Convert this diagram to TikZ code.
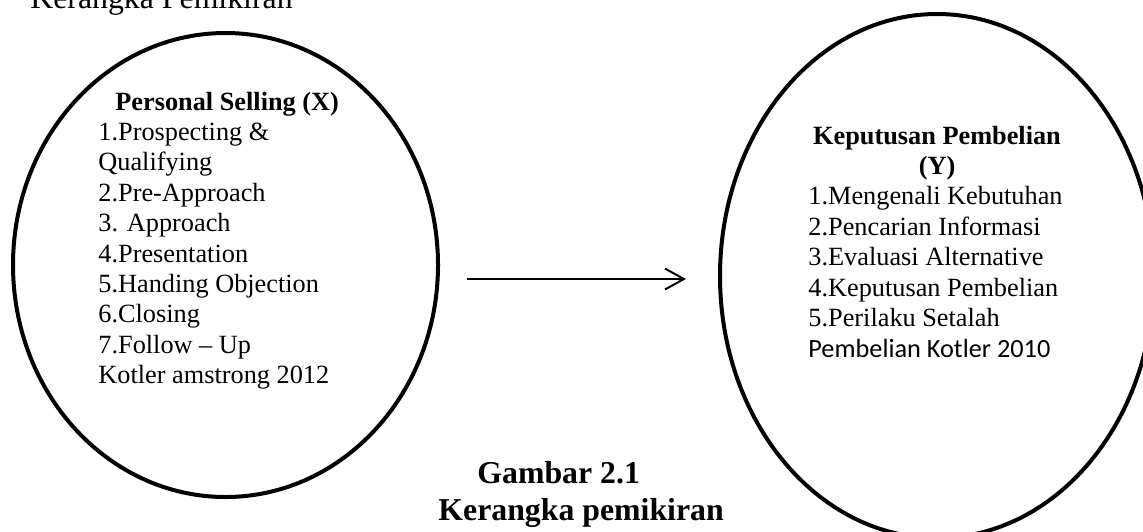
\documentclass[tikz,border=0pt]{standalone}
\usepackage{fontspec}
\setmainfont{Liberation Serif}
\newfontfamily\calfont{Carlito}
\usetikzlibrary{arrows.meta,shapes.geometric}
\begin{document}
\begin{tikzpicture}[x=0.5pt,y=-0.5pt,
  txt/.style={anchor=base west, inner sep=0pt, font=\fontsize{13.15}{15}\selectfont},
  hd/.style={txt, font=\fontsize{13.15}{15}\selectfont\bfseries},
  captxt/.style={anchor=base west, inner sep=0pt, font=\fontsize{15.9}{18}\selectfont\bfseries},
  oval/.style={draw, ellipse, line width=2pt, inner sep=0pt},
  conn/.style={line width=1pt, -{Straight Barb[length=9.5pt, width=10.5pt, line width=1pt]}}]
\useasboundingbox (0,0) rectangle (1143,531);
\clip (0,0) rectangle (1143,531);
% top heading (cut off)
\node[anchor=base west, inner sep=0pt, font=\fontsize{15.9}{18}\selectfont] (toptitle) at (30,8) {Kerangka Pemikiran};
% ellipses
\node[oval, minimum width=212.5pt, minimum height=232pt] (X) at (225.5,265) {};
\node[oval, minimum width=217pt, minimum height=262pt] (Y) at (937,276) {};
% left text
\node[hd] (x0) at (115,110) {Personal Selling (X)};
\foreach \t [count=\i] in {1.Prospecting \&, Qualifying, 2.Pre-Approach, 3. Approach, 4.Presentation, 5.Handing Objection, 6.Closing, 7.Follow -- Up, Kotler amstrong 2012}
  \node[txt] (x\i) at (98,{110+\i*30.4}) {\t};
% right text
\node[hd, anchor=base] (y0) at (937,144) {Keputusan Pembelian};
\node[hd, anchor=base] (y1) at (937,174.4) {(Y)};
\foreach \t [count=\i] in {1.Mengenali Kebutuhan, 2.Pencarian Informasi, 3.Evaluasi Alternative, 4.Keputusan Pembelian, 5.Perilaku Setalah}
  \node[txt] (yy\i) at (808,{174.4+\i*30.4}) {\t};
\node[txt, font=\fontsize{13.15}{15}\calfont] (yy6) at (808,357) {Pembelian Kotler 2010};
% arrow
\coordinate (as) at (467,279);
\coordinate (ae) at (686,279);
\draw[conn] (as) -- (ae);
% caption
\node[captxt] (g1) at (477,483) {Gambar 2.1};
\node[captxt] (g2) at (438,520) {Kerangka pemikiran};
\end{tikzpicture}
\end{document}
